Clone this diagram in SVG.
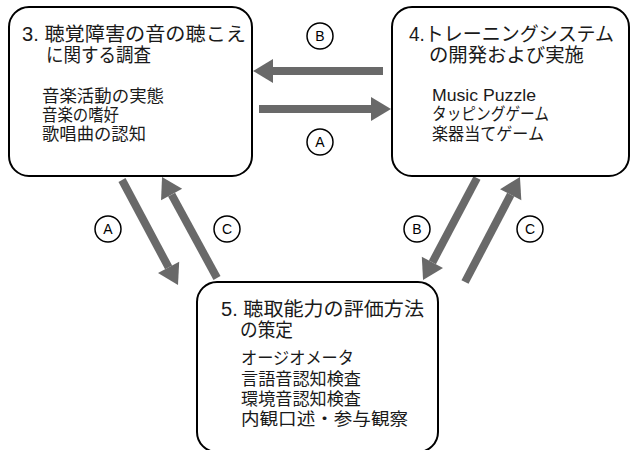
<svg xmlns="http://www.w3.org/2000/svg" width="631" height="450" viewBox="0 0 631 450">
<style>
.box{fill:#fff;stroke:#000;stroke-width:2}
.t{font-family:"Liberation Sans","Noto Sans CJK JP",sans-serif;fill:#1a1a1a}
.h{font-size:19.5px}
.s{font-size:17px}
.arr{stroke:#696969;stroke-width:8;fill:none;marker-end:url(#ah)}
.lab circle{fill:#fff;stroke:#000;stroke-width:1.5}
.lab text{font-family:"Liberation Sans","Noto Sans CJK JP",sans-serif;font-size:14px;text-anchor:middle;fill:#000}
</style>
<defs>
<marker id="ah" markerUnits="strokeWidth" markerWidth="2.5" markerHeight="3" refX="0" refY="1.5" orient="auto" overflow="visible">
<path d="M0,0 L2.5,1.5 L0,3 z" fill="#696969"/>
</marker>
</defs>
<g id="connectors">
<line class="arr" x1="383" y1="71" x2="273" y2="71"/>
<line class="arr" x1="259" y1="109" x2="371" y2="109"/>
<line class="arr" x1="122" y1="180" x2="168.6" y2="267.4"/>
<line class="arr" x1="217" y1="278" x2="171.6" y2="194.6"/>
<line class="arr" x1="477" y1="178" x2="432.4" y2="262.3"/>
<line class="arr" x1="465" y1="282" x2="510.7" y2="194.7"/>
</g>
<g id="labels" class="lab">
<g><circle cx="320" cy="36" r="13"/><text x="320" y="41">B</text></g>
<g><circle cx="320" cy="142" r="13"/><text x="320" y="147">A</text></g>
<g><circle cx="108" cy="229" r="13"/><text x="108" y="234">A</text></g>
<g><circle cx="227" cy="229" r="13"/><text x="227" y="234">C</text></g>
<g><circle cx="417" cy="229" r="13"/><text x="417" y="234">B</text></g>
<g><circle cx="530" cy="229" r="13"/><text x="530" y="234">C</text></g>
</g>
<g id="node3">
<rect class="box" x="9" y="7" width="243" height="169" rx="20"/>
<text class="t h" x="22" y="41" textLength="224" lengthAdjust="spacingAndGlyphs">3. 聴覚障害の音の聴こえ</text>
<text class="t h" x="46" y="62" textLength="105" lengthAdjust="spacingAndGlyphs">に関する調査</text>
<text class="t s" x="42" y="102" textLength="122" lengthAdjust="spacingAndGlyphs">音楽活動の実態</text>
<text class="t s" x="42" y="121" textLength="77" lengthAdjust="spacingAndGlyphs">音楽の嗜好</text>
<text class="t s" x="42" y="140" textLength="104" lengthAdjust="spacingAndGlyphs">歌唱曲の認知</text>
</g>
<g id="node4">
<rect class="box" x="392" y="7" width="237" height="169" rx="20"/>
<text class="t h" x="409" y="41" textLength="205" lengthAdjust="spacingAndGlyphs">4.トレーニングシステム</text>
<text class="t h" x="429" y="62" textLength="155" lengthAdjust="spacingAndGlyphs">の開発および実施</text>
<text class="t s" x="432" y="101" textLength="104" lengthAdjust="spacingAndGlyphs">Music Puzzle</text>
<text class="t s" x="432" y="120" textLength="117" lengthAdjust="spacingAndGlyphs">タッピングゲーム</text>
<text class="t s" x="432" y="140" textLength="112" lengthAdjust="spacingAndGlyphs">楽器当てゲーム</text>
</g>
<g id="node5">
<rect class="box" x="197" y="282" width="241" height="170" rx="20"/>
<text class="t h" x="221" y="316" textLength="203" lengthAdjust="spacingAndGlyphs">5. 聴取能力の評価方法</text>
<text class="t h" x="240" y="337" textLength="53" lengthAdjust="spacingAndGlyphs">の策定</text>
<text class="t s" x="241" y="364" textLength="113" lengthAdjust="spacingAndGlyphs">オージオメータ</text>
<text class="t s" x="241" y="385" textLength="120" lengthAdjust="spacingAndGlyphs">言語音認知検査</text>
<text class="t s" x="241" y="405" textLength="120" lengthAdjust="spacingAndGlyphs">環境音認知検査</text>
<text class="t s" x="241" y="425" textLength="167" lengthAdjust="spacingAndGlyphs">内観口述・参与観察</text>
</g>
</svg>
